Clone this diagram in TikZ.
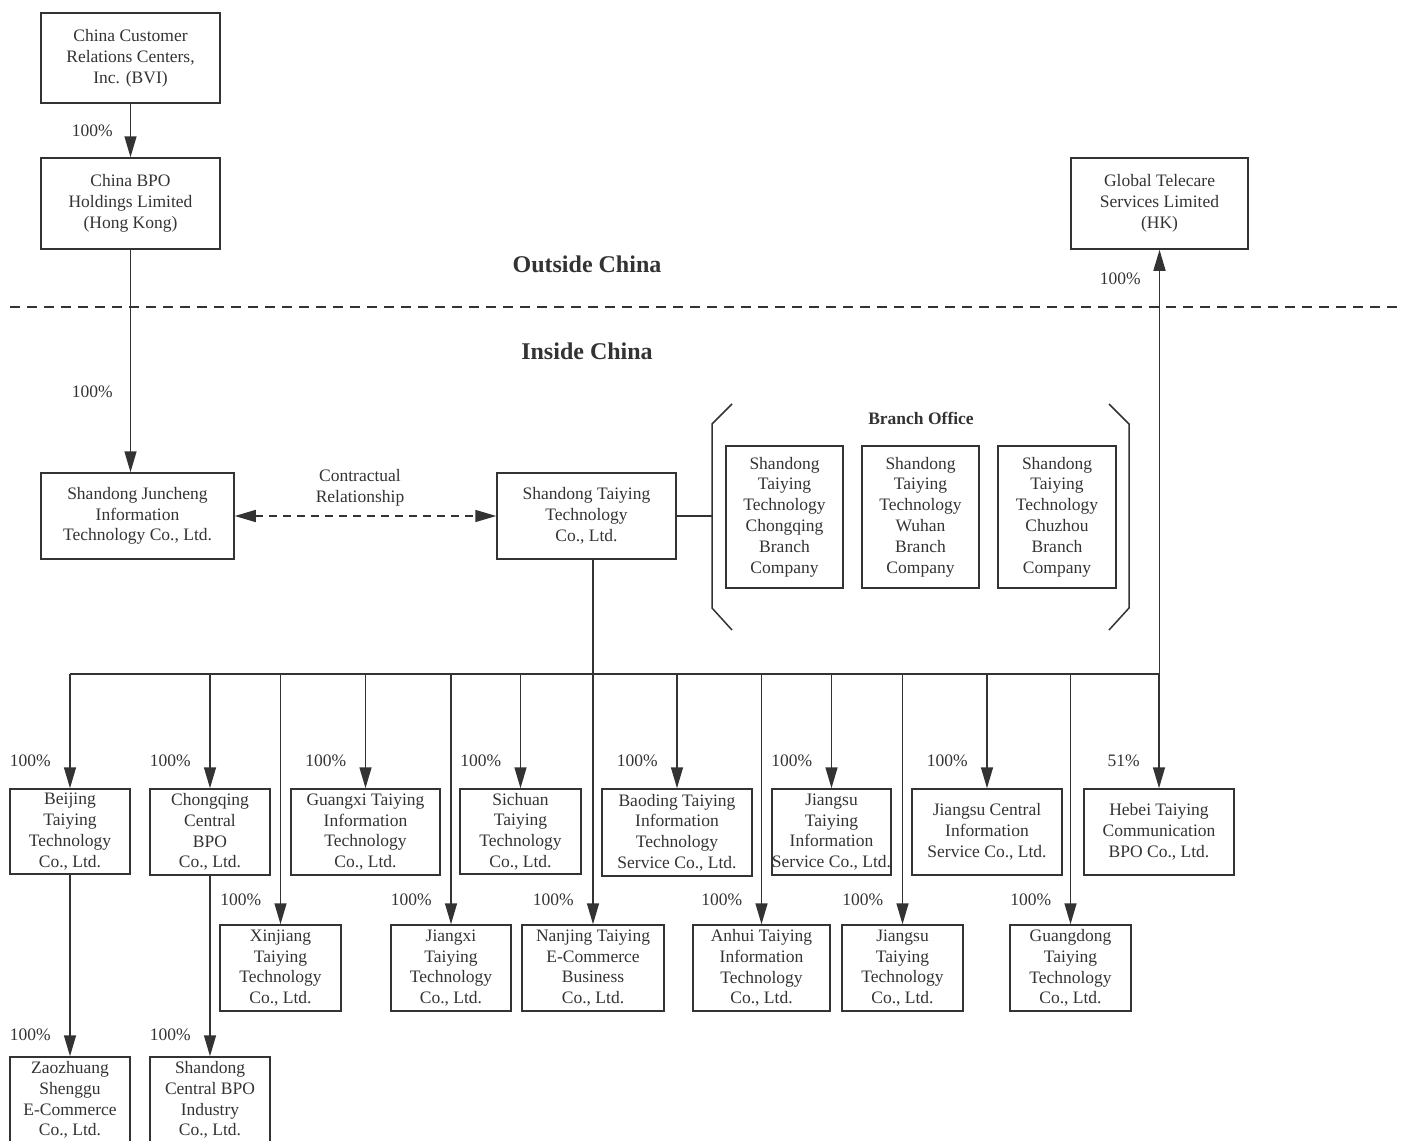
\documentclass[tikz,border=0pt]{standalone}
\usepackage{fontspec}
\setmainfont{Liberation Serif}
\usetikzlibrary{arrows.meta}
\definecolor{ink}{HTML}{333333}
\begin{document}
\begin{tikzpicture}[x=1pt,y=-1pt,
  every node/.style={text=ink, font=\fontsize{17.5}{20.8}\selectfont},
  box/.style={draw=ink, line width=1.5pt, align=center, inner sep=0pt},
  conn/.style={draw=ink, line width=1.5pt},
  arr/.style={conn, -{Triangle[length=21pt,width=12pt]}},
  pct/.style={anchor=east, inner sep=0pt},
  head/.style={font=\fontsize{24}{28}\selectfont\bfseries},
]
\useasboundingbox (0,0) rectangle (1402,1140);

% top
\node[box, minimum width=179pt, minimum height=90pt] (bvi) at (130.5,58) {China Customer\\Relations Centers,\\Inc. (BVI)};
\node[box, minimum width=179pt, minimum height=91pt] (bpo) at (130.5,203.5) {China BPO\\Holdings Limited\\(Hong Kong)};
\node[box, minimum width=177pt, minimum height=91pt] (global) at (1159.5,203.5) {Global Telecare\\Services Limited\\(HK)};

\node[head] (outside) at (587,264) {Outside China};
\node[head] (inside) at (587,351) {Inside China};
\draw[ink, line width=1.5pt, dash pattern=on 10pt off 7pt] (10,307) -- (1402,307);

\node[box, minimum width=193pt, minimum height=86pt] (jun) at (137.5,516) {Shandong Juncheng\\Information\\Technology Co., Ltd.};
\node[box, minimum width=179pt, minimum height=86pt] (tai) at (586.5,516) {Shandong Taiying\\Technology\\Co., Ltd.};

% branch office
\node[font=\fontsize{17.5}{20.8}\selectfont\bfseries] (brtitle) at (921,418) {Branch Office};
\node[box, minimum width=117pt, minimum height=142pt] (bcq) at (784.5,517) {Shandong\\Taiying\\Technology\\Chongqing\\Branch\\Company};
\node[box, minimum width=117pt, minimum height=142pt] (bwh) at (920.5,517) {Shandong\\Taiying\\Technology\\Wuhan\\Branch\\Company};
\node[box, minimum width=118pt, minimum height=142pt] (bcz) at (1057,517) {Shandong\\Taiying\\Technology\\Chuzhou\\Branch\\Company};
\draw[conn] (732,404) -- (712,424) -- (712,608) -- (732,630);
\draw[conn] (1109,404) -- (1129,424) -- (1129,608) -- (1109,630);
\coordinate (brk) at (712,516);
\draw[conn] (tai.east) -- (brk);

% top row children
\node[box, minimum width=120pt, minimum height=85pt] (beijing) at (70,831.5) {Beijing\\Taiying\\Technology\\Co., Ltd.};
\node[box, minimum width=120pt, minimum height=86pt] (cqc) at (210,832) {Chongqing\\Central\\BPO\\Co., Ltd.};
\node[box, minimum width=149pt, minimum height=86pt] (guangxi) at (365.5,832) {Guangxi Taiying\\Information\\Technology\\Co., Ltd.};
\node[box, minimum width=121pt, minimum height=85pt] (sichuan) at (520.5,831.5) {Sichuan\\Taiying\\Technology\\Co., Ltd.};
\node[box, minimum width=150pt, minimum height=87pt] (baoding) at (677,832.5) {Baoding Taiying\\Information\\Technology\\Service Co., Ltd.};
\node[box, minimum width=119pt, minimum height=86pt] (jsti) at (831.5,832) {Jiangsu\\Taiying\\Information\\Service Co., Ltd.};
\node[box, minimum width=150pt, minimum height=86pt] (jsc) at (987,832) {Jiangsu Central\\Information\\Service Co., Ltd.};
\node[box, minimum width=150pt, minimum height=86pt] (hebei) at (1159,832) {Hebei Taiying\\Communication\\BPO Co., Ltd.};

% lower row children
\node[box, minimum width=121pt, minimum height=86pt] (xinjiang) at (280.5,968) {Xinjiang\\Taiying\\Technology\\Co., Ltd.};
\node[box, minimum width=120pt, minimum height=86pt] (jiangxi) at (451,968) {Jiangxi\\Taiying\\Technology\\Co., Ltd.};
\node[box, minimum width=142pt, minimum height=86pt] (nanjing) at (593,968) {Nanjing Taiying\\E-Commerce\\Business\\Co., Ltd.};
\node[box, minimum width=137pt, minimum height=86pt] (anhui) at (761.5,968) {Anhui Taiying\\Information\\Technology\\Co., Ltd.};
\node[box, minimum width=121pt, minimum height=86pt] (jstt) at (902.5,968) {Jiangsu\\Taiying\\Technology\\Co., Ltd.};
\node[box, minimum width=121pt, minimum height=86pt] (guangdong) at (1070.5,968) {Guangdong\\Taiying\\Technology\\Co., Ltd.};

% bottom row
\node[box, minimum width=120pt, minimum height=86pt] (zao) at (70,1100) {Zaozhuang\\Shenggu\\E-Commerce\\Co., Ltd.};
\node[box, minimum width=120pt, minimum height=86pt] (sdc) at (210,1100) {Shandong\\Central BPO\\Industry\\Co., Ltd.};

% connectors top
\draw[arr] (bvi) -- (bpo);
\node[pct] at (113,131) {100\%};
\draw[arr] (bpo.south) -- (bpo.south |- jun.north);
\node[pct] at (113,392) {100\%};

\draw[conn, dash pattern=on 8pt off 6pt, {Triangle[length=21pt,width=12pt]}-{Triangle[length=21pt,width=12pt]}] (jun) -- (tai);
\node[align=center] (contract) at (360,488) {Contractual\\Relationship};

% bus
\coordinate (bus) at (591,674);
\draw[arr] (nanjing.north |- tai.south) -- (nanjing.north);
\draw[conn] (beijing.north |- bus) -- (global.south |- bus);
\draw[arr] (global.south |- bus) -- (global.south);
\node[pct] at (1141,279) {100\%};

\foreach \c/\p in {beijing/100\%, cqc/100\%, guangxi/100\%, sichuan/100\%, baoding/100\%, jsti/100\%, jsc/100\%, hebei/51\%}{
  \draw[arr] (\c.north |- bus) -- (\c.north);
  \node[pct] at ([shift={(-19,-27)}]\c.north) {\p};
}
\foreach \c in {xinjiang, jiangxi, anhui, jstt, guangdong}{
  \draw[arr] (\c.north |- bus) -- (\c.north);
}
\foreach \c in {xinjiang, jiangxi, nanjing, anhui, jstt, guangdong}{
  \node[pct] at ([shift={(-19,-24)}]\c.north) {100\%};
}

\draw[arr] (beijing.south) -- (zao.north);
\node[pct] at ([shift={(-19,-21)}]zao.north) {100\%};
\draw[arr] (cqc.south) -- (sdc.north);
\node[pct] at ([shift={(-19,-21)}]sdc.north) {100\%};
\end{tikzpicture}
\end{document}
